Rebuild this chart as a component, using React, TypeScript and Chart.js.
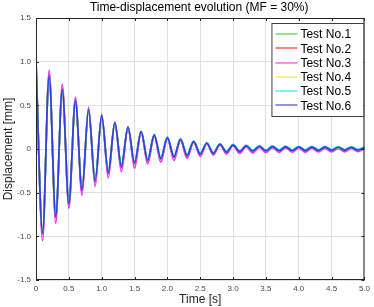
import React, { useEffect, useRef } from 'react';
import { Chart, registerables } from 'chart.js';

Chart.register(...registerables);

const TITLE = 'Time-displacement evolution (MF = 30%)';
const X_LABEL = 'Time [s]';
const Y_LABEL = 'Displacement [mm]';

const TIME = [
  0, 0.1, 0.2, 0.3, 0.4, 0.5, 0.6, 0.7, 0.8, 0.9,
  1.0, 1.1, 1.2, 1.3, 1.4, 1.5, 1.6, 1.7, 1.8, 1.9,
  2.0, 2.1, 2.2, 2.3, 2.4, 2.5, 2.6, 2.7, 2.8, 2.9,
  3.0, 3.1, 3.2, 3.3, 3.4, 3.5, 3.6, 3.7, 3.8, 3.9,
  4.0, 4.1, 4.2, 4.3, 4.4, 4.5, 4.6, 4.7, 4.8, 4.9, 5.0,
];

const TEST_LABELS = ['Test No.1', 'Test No.2', 'Test No.3', 'Test No.4', 'Test No.5', 'Test No.6'];
const TEST_COLORS = ['#22dd22', '#ee2222', '#f030f0', '#eeee22', '#22e0e0', '#3838e0'];

const TEST1 = [
  0.95, -0.95, 0.83, -0.76, 0.67, -0.61, 0.54, -0.46, 0.44, -0.36,
  0.37, -0.26, 0.29, -0.19, 0.24, -0.155, 0.195, -0.125, 0.155, -0.105,
  0.125, -0.085, 0.105, -0.07, 0.08, -0.055, 0.062, -0.047, 0.05, -0.034,
  0.042, -0.027, 0.033, -0.023, 0.028, -0.021, 0.025, -0.019, 0.023, -0.018,
  0.021, -0.017, 0.02, -0.016, 0.019, -0.015, 0.018, -0.014, 0.017, -0.013, 0.016,
];
const TEST2 = [
  0.97, -0.97, 0.85, -0.78, 0.69, -0.63, 0.56, -0.48, 0.45, -0.38,
  0.38, -0.28, 0.30, -0.21, 0.245, -0.17, 0.195, -0.14, 0.155, -0.115,
  0.125, -0.095, 0.105, -0.08, 0.08, -0.062, 0.062, -0.054, 0.05, -0.04,
  0.042, -0.032, 0.033, -0.026, 0.028, -0.024, 0.025, -0.022, 0.023, -0.021,
  0.021, -0.02, 0.02, -0.019, 0.019, -0.018, 0.018, -0.017, 0.017, -0.016, 0.016,
];
const TEST3 = [
  1.05, -1.05, 0.90, -0.85, 0.74, -0.68, 0.59, -0.53, 0.48, -0.43,
  0.40, -0.33, 0.31, -0.26, 0.25, -0.22, 0.19, -0.17, 0.15, -0.15,
  0.12, -0.13, 0.10, -0.105, 0.078, -0.085, 0.058, -0.07, 0.047, -0.058,
  0.037, -0.05, 0.028, -0.045, 0.02, -0.04, 0.016, -0.038, 0.013, -0.036,
  0.011, -0.035, 0.01, -0.034, 0.008, -0.033, 0.007, -0.032, 0.006, -0.031, 0.005,
];
const TEST4 = [
  0.96, -0.95, 0.84, -0.76, 0.68, -0.61, 0.55, -0.46, 0.45, -0.37,
  0.38, -0.26, 0.30, -0.195, 0.25, -0.16, 0.2, -0.13, 0.16, -0.108,
  0.13, -0.088, 0.11, -0.073, 0.084, -0.057, 0.065, -0.049, 0.053, -0.035,
  0.044, -0.028, 0.035, -0.024, 0.029, -0.021, 0.026, -0.019, 0.024, -0.018,
  0.022, -0.017, 0.021, -0.016, 0.02, -0.015, 0.019, -0.014, 0.018, -0.013, 0.017,
];
const TEST5 = [
  0.95, -0.94, 0.83, -0.75, 0.67, -0.60, 0.55, -0.45, 0.45, -0.35,
  0.38, -0.25, 0.30, -0.18, 0.25, -0.145, 0.205, -0.118, 0.17, -0.098,
  0.14, -0.08, 0.118, -0.065, 0.093, -0.048, 0.074, -0.04, 0.062, -0.026,
  0.053, -0.019, 0.044, -0.014, 0.038, -0.012, 0.035, -0.01, 0.033, -0.009,
  0.031, -0.008, 0.03, -0.007, 0.029, -0.006, 0.028, -0.006, 0.027, -0.005, 0.026,
];
const TEST6 = [
  0.96, -0.96, 0.84, -0.77, 0.68, -0.62, 0.55, -0.47, 0.45, -0.37,
  0.38, -0.27, 0.30, -0.20, 0.25, -0.16, 0.20, -0.13, 0.16, -0.11,
  0.13, -0.09, 0.11, -0.075, 0.085, -0.058, 0.066, -0.05, 0.054, -0.036,
  0.045, -0.03, 0.036, -0.025, 0.03, -0.022, 0.027, -0.02, 0.025, -0.019,
  0.023, -0.018, 0.022, -0.017, 0.021, -0.016, 0.02, -0.015, 0.019, -0.014, 0.017,
];

const X_TICKS = [0, 0.5, 1, 1.5, 2, 2.5, 3, 3.5, 4, 4.5, 5];
const Y_TICKS = [-1.5, -1, -0.5, 0, 0.5, 1, 1.5];

const FONT = '"Liberation Sans", Arial, Helvetica, sans-serif';
const AXIS_COLOR = '#262626';

export default function App() {
  const ref = useRef<HTMLCanvasElement>(null);

  useEffect(() => {
    document.body.style.margin = '0';
    const canvas = ref.current;
    if (!canvas) return;
    const series = [TEST1, TEST2, TEST3, TEST4, TEST5, TEST6];

    const datasets = series.map((vals, i) => ({
      label: TEST_LABELS[i],
      data: vals.map((v, j) => ({ x: TIME[j], y: v })),
      borderColor: TEST_COLORS[i],
      backgroundColor: TEST_COLORS[i],
      borderWidth: 1.7,
      pointRadius: 0,
      pointHoverRadius: 0,
      cubicInterpolationMode: 'monotone' as const,
      fill: false,
      order: series.length - 1 - i,
    }));

    const framePlugin = {
      id: 'matlabFrame',
      afterDatasetsDraw(chart: any) {
        const { ctx, chartArea: a, scales } = chart;
        ctx.save();
        ctx.strokeStyle = AXIS_COLOR;
        ctx.lineWidth = 1;
        ctx.beginPath();
        for (const v of X_TICKS) {
          const px = Math.round(scales.x.getPixelForValue(v)) + 0.5;
          ctx.moveTo(px, a.bottom);
          ctx.lineTo(px, a.bottom - 3);
          ctx.moveTo(px, a.top);
          ctx.lineTo(px, a.top + 3);
        }
        for (const v of Y_TICKS) {
          const py = Math.round(scales.y.getPixelForValue(v)) + 0.5;
          ctx.moveTo(a.left, py);
          ctx.lineTo(a.left + 3, py);
          ctx.moveTo(a.right, py);
          ctx.lineTo(a.right - 3, py);
        }
        ctx.stroke();
        ctx.strokeRect(a.left + 0.5, a.top + 0.5, a.right - a.left - 1, a.bottom - a.top - 1);
        ctx.restore();
      },
    };

    const titleLegendPlugin = {
      id: 'matlabTitleLegend',
      afterDraw(chart: any) {
        const { ctx, chartArea: a } = chart;
        ctx.save();
        ctx.font = `12px ${FONT}`;
        ctx.fillStyle = '#000000';
        ctx.textAlign = 'center';
        ctx.textBaseline = 'alphabetic';
        ctx.fillText(TITLE, (a.left + a.right) / 2 - 1, 11);
        const x0 = a.right - 93;
        const y0 = a.top + 5;
        const w = 92;
        const h = 93;
        ctx.fillStyle = '#ffffff';
        ctx.fillRect(x0, y0, w, h);
        ctx.strokeStyle = '#404040';
        ctx.lineWidth = 1;
        ctx.strokeRect(x0 + 0.5, y0 + 0.5, w, h);
        ctx.textAlign = 'left';
        chart.data.datasets.forEach((ds: any, i: number) => {
          const ry = y0 + 11 + i * 14.25;
          ctx.save();
          ctx.globalAlpha = 0.55;
          ctx.strokeStyle = ds.borderColor;
          ctx.lineWidth = 2;
          ctx.beginPath();
          ctx.moveTo(x0 + 4, Math.round(ry));
          ctx.lineTo(x0 + 26, Math.round(ry));
          ctx.stroke();
          ctx.restore();
          ctx.fillStyle = '#000000';
          ctx.fillText(ds.label, x0 + 29, ry + 4.3);
        });
        ctx.restore();
      },
    };

    const chart = new Chart(canvas, {
      type: 'line',
      data: { datasets },
      options: {
        responsive: false,
        animation: false,
        events: [],
        layout: { padding: { top: 18, right: 4, left: 0, bottom: 0 } },
        plugins: {
          legend: { display: false },
          title: { display: false },
          tooltip: { enabled: false },
        },
        scales: {
          x: {
            type: 'linear',
            min: 0,
            max: 5,
            afterBuildTicks: (scale: any) => {
              scale.ticks = X_TICKS.map((v) => ({ value: v }));
            },
            afterFit: (scale: any) => {
              scale.height = 27;
            },
            grid: { color: '#e0e0e0', lineWidth: 1, drawTicks: false },
            border: { display: false },
            ticks: {
              autoSkip: false,
              maxRotation: 0,
              padding: 4,
              color: '#4a4a4a',
              font: { family: FONT, size: 8 },
            },
            title: {
              display: true,
              text: X_LABEL,
              color: AXIS_COLOR,
              font: { family: FONT, size: 12, lineHeight: 1.2 },
              padding: { top: 0, bottom: 0 },
            },
          },
          y: {
            type: 'linear',
            min: -1.5,
            max: 1.5,
            afterBuildTicks: (scale: any) => {
              scale.ticks = Y_TICKS.map((v) => ({ value: v }));
            },
            afterFit: (scale: any) => {
              scale.width = 36;
            },
            grid: { color: '#e0e0e0', lineWidth: 1, drawTicks: false },
            border: { display: false },
            ticks: {
              autoSkip: false,
              padding: 5,
              color: '#4a4a4a',
              font: { family: FONT, size: 8 },
            },
            title: {
              display: true,
              text: Y_LABEL,
              color: AXIS_COLOR,
              font: { family: FONT, size: 12, lineHeight: 1.2 },
              padding: { top: 1, bottom: 0 },
            },
          },
        },
      },
      plugins: [framePlugin, titleLegendPlugin],
    } as any);

    return () => chart.destroy();
  }, []);

  return (
    <div style={{ position: 'fixed', left: 0, top: 0, width: 374, height: 307, background: '#ffffff' }}>
      <canvas ref={ref} width={374} height={307} style={{ width: 374, height: 307, display: 'block' }} />
    </div>
  );
}
